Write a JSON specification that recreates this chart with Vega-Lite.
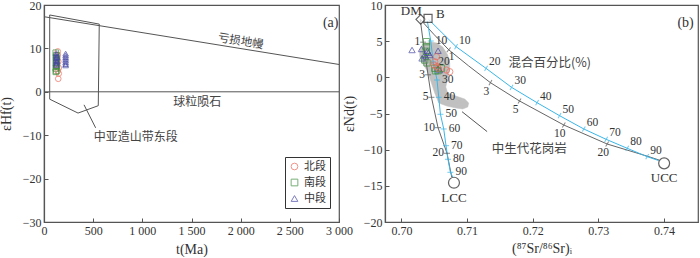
{
  "$schema": "https://vega.github.io/schema/vega-lite/v6.json",
  "padding": {"left": -2, "top": -2, "right": 0, "bottom": 0},
  "background": "white",
  "config": {
    "view": {"stroke": "#555", "strokeWidth": 1.2},
    "axis": {"domainColor": "#555", "domainWidth": 1.2, "tickColor": "#555", "tickSize": -4, "labelFont": "Liberation Serif", "labelFontSize": 12, "labelColor": "#333", "titleFont": "Liberation Serif", "titleFontSize": 14, "titleFontWeight": "normal", "titleColor": "#333", "grid": false, "labelPadding": 7, "labelFlush": false},
    "text": {"font": "Liberation Serif", "fontSize": 11.5, "color": "#333"}
  },
  "datasets": {
    "dmA": [{"t": 0, "e": 17.3}, {"t": 3000, "e": 6.3}],
    "chur": [{"t": 0, "e": 0}, {"t": 3000, "e": 0}],
    "caob": [{"i": 0, "t": 58, "e": 17.7}, {"i": 1, "t": 562, "e": 15.6}, {"i": 2, "t": 552, "e": -3.2}, {"i": 3, "t": 346, "e": -4.9}, {"i": 4, "t": 58, "e": -1.7}, {"i": 5, "t": 58, "e": 17.7}],
    "leadA": [{"i": 0, "t": 407, "e": -3.0}, {"i": 1, "t": 525, "e": -8.3}],
    "ptsA": [
      {"g": "北段", "t": 140, "e": 9.3}, {"g": "北段", "t": 140, "e": 8.5}, {"g": "北段", "t": 135, "e": 7.8}, {"g": "北段", "t": 145, "e": 7.0}, {"g": "北段", "t": 135, "e": 6.5}, {"g": "北段", "t": 150, "e": 5.5}, {"g": "北段", "t": 140, "e": 4.8}, {"g": "北段", "t": 150, "e": 4.2}, {"g": "北段", "t": 145, "e": 3.0}, {"g": "北段", "t": 130, "e": 6.0},
      {"g": "南段", "t": 120, "e": 9.0}, {"g": "南段", "t": 125, "e": 8.4}, {"g": "南段", "t": 120, "e": 7.9}, {"g": "南段", "t": 125, "e": 7.2}, {"g": "南段", "t": 120, "e": 6.6}, {"g": "南段", "t": 125, "e": 6.0}, {"g": "南段", "t": 120, "e": 5.4}, {"g": "南段", "t": 125, "e": 4.8}, {"g": "南段", "t": 120, "e": 4.6}, {"g": "南段", "t": 130, "e": 7.5}, {"g": "南段", "t": 130, "e": 5.8},
      {"g": "中段", "t": 125, "e": 8.9}, {"g": "中段", "t": 125, "e": 8.5}, {"g": "中段", "t": 125, "e": 8.1}, {"g": "中段", "t": 125, "e": 7.7}, {"g": "中段", "t": 125, "e": 7.3}, {"g": "中段", "t": 125, "e": 6.9}, {"g": "中段", "t": 125, "e": 6.5}, {"g": "中段", "t": 125, "e": 6.2}, {"g": "中段", "t": 132, "e": 8.0}, {"g": "中段", "t": 132, "e": 7.0},
      {"g": "中段", "t": 220, "e": 8.8}, {"g": "中段", "t": 220, "e": 8.4}, {"g": "中段", "t": 220, "e": 8.0}, {"g": "中段", "t": 220, "e": 7.6}, {"g": "中段", "t": 220, "e": 7.2}, {"g": "中段", "t": 220, "e": 6.8}, {"g": "中段", "t": 220, "e": 6.4}, {"g": "中段", "t": 220, "e": 6.1}
    ],
    "curves": [
      {"c": "DM-UCC", "i": 0, "sr": 0.70287, "nd": 8.02}, {"c": "DM-UCC", "i": 1, "sr": 0.70492, "nd": 5.97}, {"c": "DM-UCC", "i": 2, "sr": 0.70721, "nd": 3.81}, {"c": "DM-UCC", "i": 3, "sr": 0.71026, "nd": 1.57}, {"c": "DM-UCC", "i": 4, "sr": 0.71357, "nd": -0.74}, {"c": "DM-UCC", "i": 5, "sr": 0.718, "nd": -3.27}, {"c": "DM-UCC", "i": 6, "sr": 0.72475, "nd": -6.59}, {"c": "DM-UCC", "i": 7, "sr": 0.73136, "nd": -9.22}, {"c": "DM-UCC", "i": 8, "sr": 0.73772, "nd": -10.97}, {"c": "DM-UCC", "i": 9, "sr": 0.73925, "nd": -11.43},
      {"c": "DM-LCC", "i": 0, "sr": 0.70287, "nd": 8.02}, {"c": "DM-LCC", "i": 1, "sr": 0.70332, "nd": 4.86}, {"c": "DM-LCC", "i": 2, "sr": 0.70406, "nd": 0.35}, {"c": "DM-LCC", "i": 3, "sr": 0.70458, "nd": -2.76}, {"c": "DM-LCC", "i": 4, "sr": 0.70558, "nd": -6.96}, {"c": "DM-LCC", "i": 5, "sr": 0.70695, "nd": -10.5}, {"c": "DM-LCC", "i": 6, "sr": 0.70767, "nd": -13.78}
    ],
    "curvesB": [
      {"c": "B-UCC", "i": 0, "sr": 0.70415, "nd": 8.0}, {"c": "B-UCC", "i": 1, "sr": 0.70833, "nd": 4.24}, {"c": "B-UCC", "i": 2, "sr": 0.7129, "nd": 1.24}, {"c": "B-UCC", "i": 3, "sr": 0.71678, "nd": -1.38}, {"c": "B-UCC", "i": 4, "sr": 0.72068, "nd": -3.51}, {"c": "B-UCC", "i": 5, "sr": 0.7241, "nd": -5.3}, {"c": "B-UCC", "i": 6, "sr": 0.7278, "nd": -7.14}, {"c": "B-UCC", "i": 7, "sr": 0.7312, "nd": -8.57}, {"c": "B-UCC", "i": 8, "sr": 0.73441, "nd": -9.81}, {"c": "B-UCC", "i": 9, "sr": 0.73746, "nd": -10.97}, {"c": "B-UCC", "i": 10, "sr": 0.7392, "nd": -11.5},
      {"c": "B-LCC", "i": 0, "sr": 0.70395, "nd": 7.8}, {"c": "B-LCC", "i": 1, "sr": 0.70447, "nd": 5.02}, {"c": "B-LCC", "i": 2, "sr": 0.70485, "nd": 2.12}, {"c": "B-LCC", "i": 3, "sr": 0.70543, "nd": -0.37}, {"c": "B-LCC", "i": 4, "sr": 0.70569, "nd": -2.76}, {"c": "B-LCC", "i": 5, "sr": 0.70595, "nd": -5.11}, {"c": "B-LCC", "i": 6, "sr": 0.70645, "nd": -7.14}, {"c": "B-LCC", "i": 7, "sr": 0.7068, "nd": -9.45}, {"c": "B-LCC", "i": 8, "sr": 0.7071, "nd": -11.33}, {"c": "B-LCC", "i": 9, "sr": 0.70747, "nd": -13.13}, {"c": "B-LCC", "i": 10, "sr": 0.70782, "nd": -13.78}
    ],
    "tickDMUCC1": [{"p": "1", "sr": 0.70721, "nd": 3.81}],
    "tickDMUCC": [{"p": "3", "sr": 0.71357, "nd": -0.74}, {"p": "5", "sr": 0.718, "nd": -3.27}, {"p": "10", "sr": 0.72475, "nd": -6.59}, {"p": "20", "sr": 0.73136, "nd": -9.22}],
    "tickDMLCC": [{"p": "1", "sr": 0.70332, "nd": 4.86}, {"p": "3", "sr": 0.70406, "nd": 0.35}, {"p": "5", "sr": 0.70458, "nd": -2.76}, {"p": "10", "sr": 0.70558, "nd": -6.96}, {"p": "20", "sr": 0.70695, "nd": -10.5}],
    "tickBUCC": [{"p": "10", "sr": 0.70833, "nd": 4.24}, {"p": "20", "sr": 0.7129, "nd": 1.24}, {"p": "30", "sr": 0.71678, "nd": -1.38}, {"p": "40", "sr": 0.72068, "nd": -3.51}, {"p": "50", "sr": 0.7241, "nd": -5.3}, {"p": "60", "sr": 0.7278, "nd": -7.14}, {"p": "70", "sr": 0.7312, "nd": -8.57}, {"p": "80", "sr": 0.73441, "nd": -9.81}, {"p": "90", "sr": 0.73746, "nd": -10.97}],
    "tickBLCC": [{"p": "10", "sr": 0.70447, "nd": 5.02}, {"p": "20", "sr": 0.70485, "nd": 2.12}, {"p": "30", "sr": 0.70543, "nd": -0.37}, {"p": "40", "sr": 0.70569, "nd": -2.76}, {"p": "50", "sr": 0.70595, "nd": -5.11}, {"p": "60", "sr": 0.70645, "nd": -7.14}, {"p": "70", "sr": 0.7068, "nd": -9.45}, {"p": "80", "sr": 0.7071, "nd": -11.33}, {"p": "90", "sr": 0.70747, "nd": -13.13}],
    "granite": [
      {"i": 0, "sr": 0.70325, "nd": 4.61}, {"i": 1, "sr": 0.70447, "nd": 4.88}, {"i": 2, "sr": 0.70538, "nd": 4.75}, {"i": 3, "sr": 0.7063, "nd": 4.19}, {"i": 4, "sr": 0.70706, "nd": 3.09}, {"i": 5, "sr": 0.70737, "nd": 1.98}, {"i": 6, "sr": 0.70737, "nd": 1.01}, {"i": 7, "sr": 0.70706, "nd": -0.09}, {"i": 8, "sr": 0.70676, "nd": -1.34}, {"i": 9, "sr": 0.70706, "nd": -2.17}, {"i": 10, "sr": 0.70828, "nd": -2.58}, {"i": 11, "sr": 0.70965, "nd": -3.0}, {"i": 12, "sr": 0.71026, "nd": -3.55}, {"i": 13, "sr": 0.71011, "nd": -4.1}, {"i": 14, "sr": 0.70935, "nd": -4.38}, {"i": 15, "sr": 0.70828, "nd": -4.24}, {"i": 16, "sr": 0.70691, "nd": -3.96}, {"i": 17, "sr": 0.70569, "nd": -3.55}, {"i": 18, "sr": 0.70508, "nd": -2.17}, {"i": 19, "sr": 0.70447, "nd": -0.51}, {"i": 20, "sr": 0.70386, "nd": 1.01}, {"i": 21, "sr": 0.7031, "nd": 2.12}, {"i": 22, "sr": 0.70279, "nd": 2.95}, {"i": 23, "sr": 0.70279, "nd": 3.78}, {"i": 24, "sr": 0.70325, "nd": 4.61}
    ],
    "leadB": [{"i": 0, "sr": 0.70924, "nd": -4.75}, {"i": 1, "sr": 0.71306, "nd": -7.5}],
    "ptsB": [
      {"g": "中段", "sr": 0.70162, "nd": 3.78}, {"g": "中段", "sr": 0.70305, "nd": 3.92}, {"g": "中段", "sr": 0.70397, "nd": 3.68}, {"g": "中段", "sr": 0.70559, "nd": 3.68}, {"g": "中段", "sr": 0.70355, "nd": 3.09}, {"g": "中段", "sr": 0.70432, "nd": 3.09}, {"g": "中段", "sr": 0.70314, "nd": 2.63}, {"g": "中段", "sr": 0.70558, "nd": 1.25}, {"g": "中段", "sr": 0.70584, "nd": 1.01}, {"g": "中段", "sr": 0.7041, "nd": 3.4}, {"g": "中段", "sr": 0.7037, "nd": 2.9},
      {"g": "南段", "sr": 0.70381, "nd": 4.93}, {"g": "南段", "sr": 0.70381, "nd": 4.23}, {"g": "南段", "sr": 0.70355, "nd": 2.4}, {"g": "南段", "sr": 0.70508, "nd": 1.25}, {"g": "南段", "sr": 0.7061, "nd": 1.25}, {"g": "南段", "sr": 0.70558, "nd": 0.92}, {"g": "南段", "sr": 0.70381, "nd": 3.6}, {"g": "南段", "sr": 0.7039, "nd": 2.0}, {"g": "南段", "sr": 0.7052, "nd": 0.9},
      {"g": "北段", "sr": 0.70508, "nd": 2.16}, {"g": "北段", "sr": 0.70534, "nd": 2.85}, {"g": "北段", "sr": 0.70558, "nd": 1.25}, {"g": "北段", "sr": 0.70686, "nd": 1.01}, {"g": "北段", "sr": 0.70737, "nd": 0.78}, {"g": "北段", "sr": 0.70497, "nd": 1.7}, {"g": "北段", "sr": 0.7054, "nd": 1.5}
    ],
    "emDM": [{"name": "DM", "sr": 0.70294, "nd": 8.02}],
    "emB": [{"name": "B", "sr": 0.70406, "nd": 8.16}],
    "emC": [{"name": "LCC", "sr": 0.70801, "nd": -14.57}, {"name": "UCC", "sr": 0.74004, "nd": -11.89}]
  },
  "bounds": "flush",
  "spacing": 46,
  "hconcat": [
    {
      "width": 295,
      "height": 217,
      "encoding": {
        "x": {"field": "t", "type": "quantitative", "scale": {"domain": [0, 3000], "nice": false}, "axis": {"title": "t(Ma)", "values": [0, 500, 1000, 1500, 2000, 2500, 3000], "labelExpr": "replace(format(datum.value, ','), ',', ' ')", "titlePadding": 6}},
        "y": {"field": "e", "type": "quantitative", "scale": {"domain": [-30, 20], "nice": false}, "axis": {"title": "εHf(t)", "values": [-30, -20, -10, 0, 10, 20], "titlePadding": 9}}
      },
      "layer": [
        {"data": {"name": "dmA"}, "mark": {"type": "line", "color": "#555", "strokeWidth": 1}},
        {"data": {"name": "chur"}, "mark": {"type": "line", "color": "#555", "strokeWidth": 1}},
        {"data": {"name": "caob"}, "mark": {"type": "line", "color": "#555", "strokeWidth": 1}, "encoding": {"order": {"field": "i"}}},
        {"data": {"name": "leadA"}, "mark": {"type": "line", "color": "#555", "strokeWidth": 1}, "encoding": {"order": {"field": "i"}}},
        {"data": {"values": [{"t": 2000, "e": 11.5, "s": "亏损地幔"}]}, "mark": {"type": "text", "font": "Noto Sans CJK SC", "fontSize": 11.5, "angle": 9, "color": "#444"}, "encoding": {"text": {"field": "s"}}},
        {"data": {"values": [{"t": 1559, "e": -2.4, "s": "球粒陨石"}]}, "mark": {"type": "text", "font": "Noto Sans CJK SC", "fontSize": 12, "color": "#444"}, "encoding": {"text": {"field": "s"}}},
        {"data": {"values": [{"t": 932, "e": -10.3, "s": "中亚造山带东段"}]}, "mark": {"type": "text", "font": "Noto Sans CJK SC", "fontSize": 12, "color": "#444"}, "encoding": {"text": {"field": "s"}}},
        {"data": {"values": [{"t": 2915, "e": 15.9, "s": "(a)"}]}, "mark": {"type": "text", "fontSize": 14, "color": "#333"}, "encoding": {"text": {"field": "s"}}},
        {
          "data": {"name": "ptsA"},
          "mark": {"type": "point", "filled": false, "size": 32, "strokeWidth": 1},
          "encoding": {
            "shape": {"field": "g", "type": "nominal", "scale": {"domain": ["北段", "南段", "中段"], "range": ["circle", "square", "triangle-up"]}, "legend": {"title": null, "orient": "none", "legendX": 241, "legendY": 152, "strokeColor": "#333", "padding": 4, "labelFont": "Noto Sans CJK SC", "labelFontSize": 11, "labelColor": "#333", "rowPadding": 4, "symbolSize": 45, "symbolStrokeWidth": 1}},
            "color": {"field": "g", "type": "nominal", "scale": {"domain": ["北段", "南段", "中段"], "range": ["#ef6a5a", "#3f8f3f", "#4646a6"]}, "legend": {"title": null, "orient": "none", "legendX": 241, "legendY": 152, "strokeColor": "#333", "padding": 4, "labelFont": "Noto Sans CJK SC", "labelFontSize": 11, "labelColor": "#333", "rowPadding": 4, "symbolSize": 45, "symbolStrokeWidth": 1}}
          }
        }
      ]
    },
    {
      "width": 313,
      "height": 217,
      "encoding": {
        "x": {"field": "sr", "type": "quantitative", "scale": {"domain": [0.6975, 0.7452], "nice": false, "zero": false}, "axis": {"title": "(⁸⁷Sr/⁸⁶Sr)ᵢ", "values": [0.70, 0.71, 0.72, 0.73, 0.74], "format": ".2f", "titlePadding": 5}},
        "y": {"field": "nd", "type": "quantitative", "scale": {"domain": [-20, 10], "nice": false}, "axis": {"title": "εNd(t)", "values": [-20, -15, -10, -5, 0, 5, 10], "titlePadding": 7}}
      },
      "layer": [
        {"data": {"name": "granite"}, "mark": {"type": "line", "fill": "#c0c0c0", "stroke": "#c0c0c0", "strokeWidth": 0.5}, "encoding": {"order": {"field": "i"}}},
        {"data": {"name": "leadB"}, "mark": {"type": "line", "color": "#555", "strokeWidth": 1}, "encoding": {"order": {"field": "i"}}},
        {"data": {"name": "curves"}, "mark": {"type": "line", "color": "#666", "strokeWidth": 1}, "encoding": {"detail": {"field": "c"}, "order": {"field": "i"}}},
        {"data": {"name": "curvesB"}, "mark": {"type": "line", "color": "#3bb6e8", "strokeWidth": 1}, "encoding": {"detail": {"field": "c"}, "order": {"field": "i"}}},
        {"data": {"name": "tickDMUCC"}, "mark": {"type": "point", "shape": "stroke", "size": 36, "angle": 120, "color": "#555", "strokeWidth": 1}},
        {"data": {"name": "tickDMUCC1"}, "mark": {"type": "point", "shape": "stroke", "size": 36, "angle": 130, "color": "#555", "strokeWidth": 1}},
        {"data": {"name": "tickBUCC"}, "mark": {"type": "point", "shape": "stroke", "size": 36, "angle": 120, "color": "#3bb6e8", "strokeWidth": 1}},
        {"data": {"name": "tickDMLCC"}, "mark": {"type": "point", "shape": "stroke", "size": 36, "angle": 0, "color": "#555", "strokeWidth": 1}},
        {"data": {"name": "tickBLCC"}, "mark": {"type": "point", "shape": "stroke", "size": 36, "angle": 0, "color": "#3bb6e8", "strokeWidth": 1}},
        {"data": {"name": "tickDMUCC"}, "mark": {"type": "text", "dx": -4, "dy": 9}, "encoding": {"text": {"field": "p"}}},
        {"data": {"name": "tickDMUCC1"}, "mark": {"type": "text", "dx": 3, "dy": 7}, "encoding": {"text": {"field": "p"}}},
        {"data": {"name": "tickBUCC"}, "mark": {"type": "text", "align": "left", "dx": 3, "dy": -6}, "encoding": {"text": {"field": "p"}}},
        {"data": {"name": "tickDMLCC"}, "mark": {"type": "text", "align": "right", "dx": -3}, "encoding": {"text": {"field": "p"}}},
        {"data": {"name": "tickBLCC"}, "mark": {"type": "text", "align": "left", "dx": 5}, "encoding": {"text": {"field": "p"}}},
        {
          "data": {"name": "ptsB"},
          "mark": {"type": "point", "filled": false, "size": 40, "strokeWidth": 1},
          "encoding": {
            "shape": {"field": "g", "type": "nominal", "scale": {"domain": ["北段", "南段", "中段"], "range": ["circle", "square", "triangle-up"]}, "legend": null},
            "color": {"field": "g", "type": "nominal", "scale": {"domain": ["北段", "南段", "中段"], "range": ["#e0402e", "#4a9a4a", "#6f6fc8"]}, "legend": null}
          }
        },
        {"data": {"name": "emDM"}, "mark": {"type": "point", "shape": "diamond", "size": 90, "fill": "white", "filled": true, "stroke": "#222", "strokeWidth": 1.2}},
        {"data": {"name": "emB"}, "mark": {"type": "point", "shape": "square", "size": 64, "fill": "white", "filled": true, "stroke": "#222", "strokeWidth": 1.2}},
        {"data": {"name": "emC"}, "mark": {"type": "point", "shape": "circle", "size": 120, "fill": "white", "filled": true, "stroke": "#222", "strokeWidth": 1.2}},
        {"data": {"name": "emDM"}, "mark": {"type": "text", "align": "right", "fontSize": 13, "dx": 1, "dy": -8}, "encoding": {"text": {"field": "name"}}},
        {"data": {"name": "emB"}, "mark": {"type": "text", "align": "left", "fontSize": 13, "dx": 8, "dy": -4}, "encoding": {"text": {"field": "name"}}},
        {"data": {"name": "emC"}, "mark": {"type": "text", "fontSize": 13, "dy": 15}, "encoding": {"text": {"field": "name"}}},
        {"data": {"values": [{"sr": 0.72259, "nd": 1.94, "s": "混合百分比(%)"}]}, "mark": {"type": "text", "font": "Noto Sans CJK SC", "fontSize": 12.5, "color": "#444"}, "encoding": {"text": {"field": "s"}}},
        {"data": {"values": [{"sr": 0.7195, "nd": -9.9, "s": "中生代花岗岩"}]}, "mark": {"type": "text", "font": "Noto Sans CJK SC", "fontSize": 12.5, "color": "#444"}, "encoding": {"text": {"field": "s"}}},
        {"data": {"values": [{"sr": 0.74331, "nd": 7.47, "s": "(b)"}]}, "mark": {"type": "text", "fontSize": 14, "color": "#333"}, "encoding": {"text": {"field": "s"}}}
      ]
    }
  ]
}
